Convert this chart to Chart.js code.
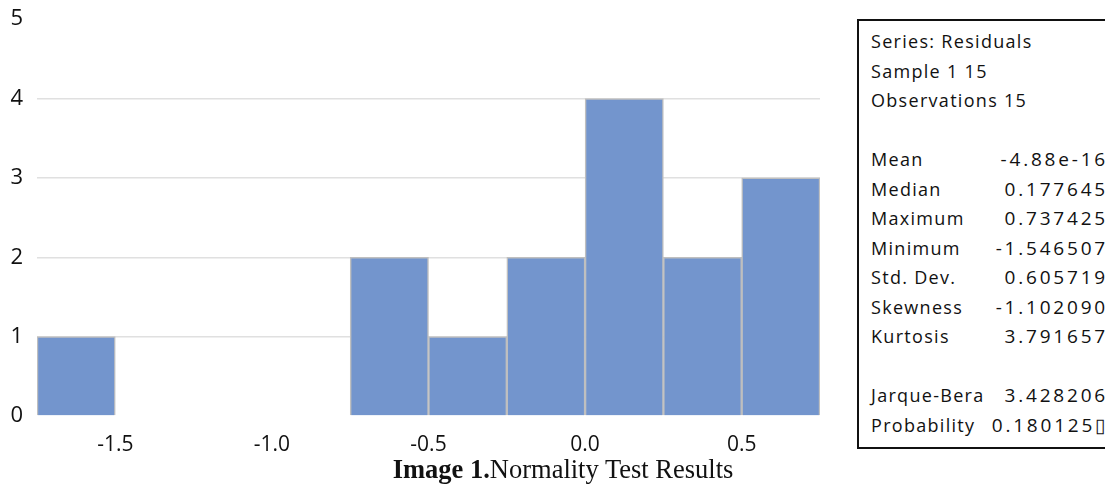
<!DOCTYPE html>
<html>
<head>
<meta charset="utf-8">
<script src="https://cdn.jsdelivr.net/npm/chart.js@4/dist/chart.umd.min.js"></script>
<style>
  body { margin: 0; background: #fff; width: 1105px; height: 486px; overflow: hidden; position: relative; }
  #wrap { position: absolute; left: 0; top: -8px; width: 842px; height: 464px; }
  #stats { position: absolute; left: 857px; top: 19px; width: 270px; height: 426px; border: 2px solid #111;
           font-family: "Open Sans", sans-serif; font-size: 18px; color: #111; letter-spacing: 1.3px; }
  .row { position: absolute; left: 12px; width: 234px; height: 26px; line-height: 26px; }
  .row .v { position: absolute; right: -3px; top: 0; font-size: 19px; letter-spacing: 2.8px; }
  #caption { position: absolute; left: 0; width: 1126px; top: 454px; text-align: center;
             font-family: "Liberation Serif", "Times New Roman", serif; font-size: 26.5px; color: #111; }
</style>
</head>
<body>
<div id="wrap"><canvas id="myChart"></canvas></div>
<div id="stats"></div>
<div id="caption"><b>Image 1.</b>Normality Test Results</div>
<script>
// Histogram bins (centers) and counts
var binCenters = [-1.625, -1.375, -1.125, -0.875, -0.625, -0.375, -0.125, 0.125, 0.375, 0.625];
var counts = [1, 0, 0, 0, 2, 1, 2, 4, 2, 3];
var xTicks = [-1.5, -1.0, -0.5, 0.0, 0.5];
var yTicks = [0, 1, 2, 3, 4, 5];

// Descriptive statistics box
var statLabels = ["Series: Residuals", "Sample 1 15", "Observations 15", "", "Mean", "Median", "Maximum", "Minimum",
  "Std. Dev.", "Skewness", "Kurtosis", "", "Jarque-Bera", "Probability"];
var statValues = ["", "", "", "", "-4.88e-16", "0.177645", "0.737425", "-1.546507",
  "0.605719", "-1.102090", "3.791657", "", "3.428206", "0.180125\u25AF"];

var box = document.getElementById("stats");
statLabels.forEach(function (lab, i) {
  var row = document.createElement("div");
  row.className = "row";
  row.style.top = (7 + i * 29.5) + "px";
  row.innerHTML = '<span>' + lab + '</span><span class="v">' + statValues[i] + '</span>';
  box.appendChild(row);
});

var ctx = document.getElementById("myChart").getContext("2d");
var myChart = new Chart(ctx, {
  type: "bar",
  data: {
    datasets: [{
      data: binCenters.map(function (c, i) { return { x: c, y: counts[i] }; }),
      backgroundColor: "#7395cd",
      borderColor: "#bfbfbf",
      borderWidth: 1.5,
      barPercentage: 1,
      categoryPercentage: 1
    }]
  },
  options: {
    responsive: true,
    maintainAspectRatio: false,
    animation: false,
    layout: { padding: { top: 4, right: 22, left: 0, bottom: 0 } },
    plugins: { legend: { display: false }, tooltip: { enabled: false } },
    scales: {
      x: {
        type: "linear",
        min: -1.75,
        max: 0.75,
        offset: false,
        afterBuildTicks: function (axis) {
          axis.ticks = xTicks.map(function (v) { return { value: v }; });
        },
        afterFit: function (axis) { axis.height = 40; },
        grid: { display: false, offset: false },
        border: { display: false },
        ticks: {
          color: "#111",
          font: { family: "Open Sans", size: 21 },
          padding: 8,
          callback: function (v) { return v.toFixed(1); }
        }
      },
      y: {
        min: 0,
        max: 5,
        afterBuildTicks: function (axis) {
          axis.ticks = yTicks.map(function (v) { return { value: v }; });
        },
        afterFit: function (axis) { axis.width = 37; },
        border: { display: false },
        grid: {
          color: function (c) { return (c.tick.value === 0 || c.tick.value === 5) ? "rgba(0,0,0,0)" : "#e0e0e0"; },
          lineWidth: 1.5,
          drawTicks: false
        },
        ticks: {
          color: "#111",
          font: { family: "Open Sans", size: 22 },
          padding: 14,
          align: "center"
        }
      }
    }
  }
});
</script>
</body>
</html>
